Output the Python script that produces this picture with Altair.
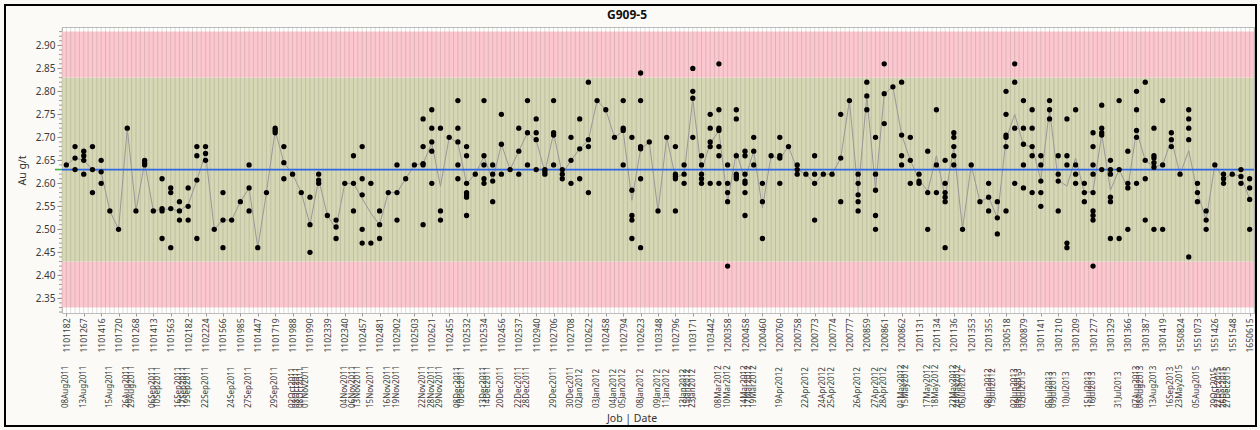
import altair as alt
import pandas as pd

FONT = "Noto Sans"

title_text = ["G909-5"]
y_title = "Au g/t"
x_title = ["Job | Date"]
center_value = [2.63]
band_low = [2.33, 2.43, 2.83]
band_high = [2.43, 2.83, 2.93]
band_zone = ["low", "mid", "high"]
band_colors = ["#FDC7CF", "#D6D7B4", "#FDC7CF"]

# Au g/t results per job column (left to right)
au_part1 = [
    [2.64], [2.68, 2.655, 2.63], [2.67, 2.66, 2.65, 2.62], [2.68, 2.63, 2.58],
    [2.65, 2.625, 2.60], [2.54], [2.50], [2.72], [2.54], [2.65, 2.645, 2.64],
    [2.54], [2.61, 2.545, 2.54, 2.48], [2.59, 2.58, 2.545, 2.46], [2.56, 2.54, 2.52],
    [2.59, 2.55, 2.52], [2.68, 2.66, 2.607, 2.48], [2.68, 2.665, 2.65], [2.50],
    [2.58, 2.52, 2.46], [2.52], [2.56], [2.64, 2.59, 2.54], [2.46], [2.58],
    [2.72, 2.715, 2.71], [2.68, 2.645, 2.61], [2.62], [2.58], [2.57, 2.51, 2.45],
    [2.62, 2.607, 2.60], [2.53], [2.52, 2.505, 2.48], [2.60], [2.66, 2.60, 2.54],
    [2.68, 2.61, 2.575, 2.50, 2.47],
]
au_part2 = [
    [2.60, 2.47], [2.54, 2.51, 2.48], [2.58], [2.64, 2.58, 2.52], [2.61], [2.64],
    [2.74, 2.68, 2.643, 2.64, 2.51], [2.76, 2.72, 2.69, 2.67, 2.60], [2.72, 2.54, 2.52],
    [2.70], [2.78, 2.72, 2.69, 2.64, 2.61], [2.68, 2.66, 2.60, 2.58, 2.575, 2.57, 2.53],
    [2.62], [2.78, 2.66, 2.64, 2.61, 2.60], [2.64, 2.62, 2.605, 2.56], [2.75, 2.685, 2.62],
    [2.63], [2.72, 2.67, 2.62], [2.78, 2.71, 2.64], [2.74, 2.71, 2.695, 2.63],
    [2.63, 2.625, 2.62], [2.78, 2.71, 2.705, 2.64], [2.63, 2.62, 2.61], [2.70, 2.65, 2.60],
    [2.74, 2.675, 2.61], [2.82, 2.695, 2.68, 2.58], [2.78], [2.76], [2.70],
    [2.78, 2.72, 2.715, 2.64], [2.70, 2.585, 2.53, 2.52, 2.48],
    [2.84, 2.78, 2.68, 2.675, 2.61, 2.46], [2.69], [2.54], [2.70],
]
au_part3 = [
    [2.68, 2.62, 2.615, 2.61, 2.54], [2.64, 2.62, 2.60], [2.85, 2.80, 2.785, 2.70],
    [2.66, 2.64, 2.62, 2.61, 2.60], [2.75, 2.72, 2.69, 2.68, 2.60],
    [2.86, 2.76, 2.72, 2.715, 2.68, 2.66, 2.60], [2.64, 2.60, 2.58, 2.56, 2.42],
    [2.76, 2.74, 2.66, 2.62, 2.615, 2.61], [2.67, 2.66, 2.62, 2.605, 2.60, 2.58, 2.53],
    [2.70, 2.67, 2.64], [2.60, 2.56, 2.48], [2.66], [2.70, 2.66, 2.655, 2.60], [2.68],
    [2.64, 2.63, 2.62], [2.62], [2.66, 2.62, 2.60, 2.52], [2.62], [2.62],
    [2.75, 2.655, 2.56], [2.78], [2.62, 2.60, 2.575, 2.56, 2.54], [2.82, 2.79, 2.76],
    [2.70, 2.62, 2.585, 2.53, 2.50], [2.86, 2.795, 2.73], [2.81], [2.82, 2.705, 2.66, 2.64],
    [2.70, 2.65, 2.60], [2.62, 2.605, 2.60], [2.67, 2.58, 2.50], [2.76, 2.64, 2.58],
    [2.65, 2.60, 2.58, 2.57, 2.56, 2.46], [2.71, 2.70, 2.68, 2.66, 2.64], [2.50], [2.64],
]
au_part4 = [
    [2.56], [2.60, 2.57, 2.54], [2.56, 2.525, 2.49], [2.80, 2.75, 2.705, 2.70, 2.68, 2.54],
    [2.86, 2.82, 2.72, 2.60], [2.78, 2.72, 2.685, 2.64, 2.59], [2.76, 2.72, 2.68, 2.66, 2.58],
    [2.66, 2.64, 2.605, 2.58, 2.55], [2.78, 2.76, 2.74], [2.66, 2.62, 2.605, 2.54],
    [2.74, 2.66, 2.64, 2.47, 2.46], [2.76, 2.64, 2.62, 2.60], [2.60, 2.58, 2.56],
    [2.71, 2.68, 2.64, 2.62, 2.58, 2.54, 2.53, 2.52, 2.42], [2.77, 2.72, 2.71, 2.705, 2.63],
    [2.65, 2.63, 2.62, 2.57, 2.56, 2.48], [2.78, 2.63, 2.48], [2.67, 2.60, 2.59, 2.50],
    [2.80, 2.76, 2.715, 2.70, 2.60], [2.82, 2.65, 2.61, 2.52],
    [2.72, 2.66, 2.655, 2.645, 2.635, 2.50], [2.78, 2.64, 2.50], [2.71, 2.695, 2.68],
    [2.62], [2.76, 2.74, 2.72, 2.695, 2.44], [2.60, 2.58, 2.56], [2.54, 2.52, 2.50],
    [2.64], [2.62, 2.61, 2.60], [2.62], [2.63, 2.615, 2.60], [2.61, 2.59, 2.565, 2.50],
]

job_cols = [0, 2, 4, 6, 8, 10, 12, 14, 16, 18, 20, 22, 24, 26, 28, 30, 32, 34, 36, 38,
            40, 42, 44, 46, 48, 50, 52, 54, 56, 58, 60, 62, 64, 66, 68, 70, 72, 74, 76,
            78, 80, 82, 84, 86, 88, 90, 92, 94, 96, 98, 100, 102, 104, 106, 108, 110,
            112, 114, 116, 118, 120, 122, 124, 126, 128, 130, 132, 134, 136]
job_names = ["1101182", "1101267", "1101416", "1101720", "1101268", "1101413", "1101563",
             "1102182", "1102224", "1101566", "1101985", "1101447", "1101719", "1101988",
             "1101990", "1102339", "1102340", "1102457", "1102481", "1102902", "1102503",
             "1102621", "1102455", "1102532", "1102534", "1102456", "1102537", "1102940",
             "1102706", "1102708", "1102622", "1102458", "1102794", "1102623", "1103348",
             "1102796", "1103171", "1103442", "1200358", "1200458", "1200460", "1200760",
             "1200758", "1200773", "1200774", "1200777", "1200859", "1200861", "1200862",
             "1201131", "1201134", "1201136", "1201353", "1201355", "1300518", "1300879",
             "1301141", "1301210", "1301209", "1301277", "1301329", "1301366", "1301387",
             "1301419", "1550824", "1551073", "1551426", "1551548", "1650615"]

date_cols = [0, 2, 5, 7, 7.5, 10, 10.5, 13, 13.5, 14, 16, 19, 21, 24, 26, 26.5, 27, 27.5,
             32, 33, 33.5, 35, 37, 38, 41, 42, 43, 45, 45.5, 48, 48.5, 50, 52, 53, 56, 58,
             59, 61, 63, 64, 66, 68, 69, 71, 71.5, 72, 75, 76, 78, 78.5, 79, 82, 85, 87,
             88, 91, 93, 94, 96, 96.5, 99, 100, 102, 102.5, 103, 106, 106.5, 109, 109.5,
             110, 113, 113.5, 115, 117.5, 118, 121, 123, 123.5, 125, 127, 128, 130, 132,
             132.5, 133, 133.5]
date_names = ["08Aug2011", "13Aug2011", "15Aug2011", "26Aug2011", "29Aug2011", "06Sep2011",
              "10Sep2011", "16Sep2011", "17Sep2011", "19Sep2011", "22Sep2011", "24Sep2011",
              "27Sep2011", "29Sep2011", "02Oct2011", "03Oct2011", "08Oct2011", "01Nov2011",
              "04Nov2011", "06Nov2011", "13Nov2011", "15Nov2011", "16Nov2011", "19Nov2011",
              "22Nov2011", "28Nov2011", "29Nov2011", "08Dec2011", "10Dec2011", "13Dec2011",
              "14Dec2011", "20Dec2011", "22Dec2011", "28Dec2011", "29Dec2011", "30Dec2011",
              "02Jan2012", "03Jan2012", "04Jan2012", "05Jan2012", "08Jan2012", "09Jan2012",
              "11Jan2012", "13Jan2012", "15Jan2012", "23Jan2012", "08Mar2012", "10Mar2012",
              "14Mar2012", "17Mar2012", "19Mar2012", "19Apr2012", "22Apr2012", "24Apr2012",
              "25Apr2012", "26Apr2012", "27Apr2012", "28Apr2012", "01May2012", "15May2012",
              "17May2012", "18May2012", "22May2012", "24May2012", "06Jun2012", "08Jun2012",
              "15Jun2012", "02Jun2013", "09Jun2013", "02Jul2013", "05Jul2013", "09Jul2013",
              "10Jul2013", "15Jul2013", "16Jul2013", "31Jul2013", "07Aug2013", "08Aug2013",
              "13Aug2013", "16Sep2013", "23May2015", "05Aug2015", "29Oct2015", "22Dec2015",
              "26Dec2015", "27Dec2015"]

y_major = [2.35, 2.40, 2.45, 2.50, 2.55, 2.60, 2.65, 2.70, 2.75, 2.80, 2.85, 2.90]

# ---------- build tables ----------
columns = au_part1 + au_part2 + au_part3 + au_part4
n_cols = len(columns)
rows = []
for c, vals in enumerate(columns):
    for v in vals:
        rows.append({"col": c, "v": v})
pts = pd.DataFrame(rows)

bands = pd.DataFrame({"lo": band_low, "hi": band_high, "zone": band_zone})
grid = pd.DataFrame({"col": [i / 2 for i in range(-1, 2 * n_cols)]})
center = pd.DataFrame({"v": center_value})
dates = pd.DataFrame({"col": date_cols, "label": date_names})
minor = pd.DataFrame({"v": [round(2.32 + 0.01 * i, 2) for i in range(62)]})

lab_arr = [""] * n_cols
for c, n in zip(job_cols, job_names):
    lab_arr[c] = n
label_expr = "[" + ",".join("'" + s + "'" for s in lab_arr) + "][datum.value]"

W, H = 1192, 286
xscale = alt.Scale(domain=[-0.5, n_cols - 0.5], nice=False, zero=False)
yscale = alt.Scale(domain=[2.318, 2.940], nice=False, zero=False)

xaxis = alt.Axis(values=job_cols, labelExpr=label_expr, labelAngle=270,
                 labelFontSize=8.5, labelColor="#3a3a3a", labelFont=FONT,
                 tickSize=3, tickColor="#9a9a9a", labelPadding=2, grid=False,
                 domain=False, title=None, labelOverlap=False, labelFlush=False,
                 labelBound=False)
yaxis = alt.Axis(values=y_major, format=".2f", labelFontSize=10, labelColor="#3a3a3a",
                 labelFont=FONT, tickSize=5, tickColor="#8a8a8a", labelPadding=2,
                 grid=False, domain=False, title=y_title, titleFont=FONT,
                 titleFontSize=10.5, titleFontWeight="normal", titleColor="#333333",
                 titlePadding=8)

X = lambda: alt.X("col:Q", scale=xscale, axis=xaxis)
Y = lambda f="v": alt.Y(f + ":Q", scale=yscale, axis=yaxis)

band_layer = alt.Chart(bands).mark_rect().encode(
    y=Y("lo"), y2="hi:Q",
    color=alt.Color("zone:N", scale=alt.Scale(domain=band_zone, range=band_colors), legend=None),
)
grid_layer = alt.Chart(grid).mark_rule(color="#7f7f74", strokeWidth=1, opacity=0.26).encode(x=X())
center_layer = alt.Chart(center).mark_rule(color="#2F68E6", strokeWidth=1.8).encode(y=Y())
green_tick = alt.Chart(center).mark_rule(color="#3CB043", strokeWidth=1.6).encode(
    y=Y(), x=alt.value(-7), x2=alt.value(0))
mean_line = alt.Chart(pts).mark_line(color="#999999", strokeWidth=1).encode(
    x=X(), y=alt.Y("mean(v):Q", scale=yscale, axis=yaxis))
point_layer = alt.Chart(pts).mark_circle(color="black", size=28, opacity=1).encode(x=X(), y=Y())
date_layer = alt.Chart(dates).mark_text(angle=270, align="left", baseline="middle",
                                        fontSize=8, color="#3a3a3a", font=FONT).encode(
    x=X(), y=alt.value(381), text="label:N")
minor_layer = alt.Chart(minor).mark_rule(color="#9a9a9a", strokeWidth=1).encode(
    y=Y(), x=alt.value(-3), x2=alt.value(0))
title_layer = alt.Chart(pd.DataFrame({"t": title_text})).mark_text(
    fontSize=12, fontWeight="bold", font=FONT, color="#111111", baseline="middle").encode(
    text="t:N", x=alt.value(565), y=alt.value(-12))
xtitle_layer = alt.Chart(pd.DataFrame({"t": x_title})).mark_text(
    fontSize=10.5, font=FONT, color="#333333", baseline="middle").encode(
    text="t:N", x=alt.value(570), y=alt.value(392))
frame_layer = alt.Chart(pd.DataFrame({"t": ["frame"]})).mark_rect(
    fillOpacity=0, stroke="black", strokeWidth=2).encode(
    x=alt.value(-57), x2=alt.value(1194), y=alt.value(-22), y2=alt.value(399))

chart = alt.layer(
    band_layer, grid_layer, mean_line, center_layer, point_layer, date_layer,
    minor_layer, green_tick, title_layer, xtitle_layer, frame_layer,
).properties(
    width=W, height=H,
    autosize=alt.AutoSizeParams(type="none"),
    padding={"left": 62, "top": 27, "right": 6, "bottom": 117},
).configure(
    background="#FCFAF6", font=FONT,
).configure_view(
    stroke="#BDBDBD", fill="white",
)

chart.save("out.html", embed_options={"renderer": "svg", "actions": False})
